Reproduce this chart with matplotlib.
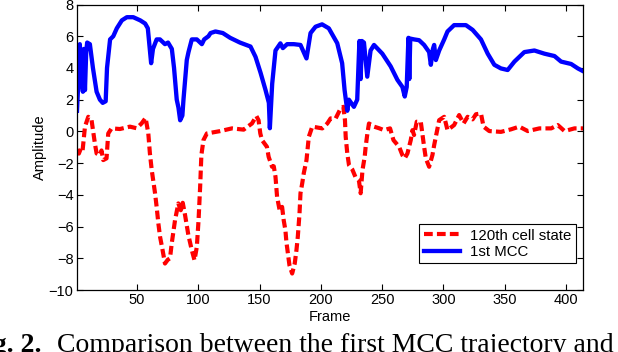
import matplotlib
matplotlib.use("Agg")
import matplotlib.pyplot as plt

# 1st MCC trajectory (frame, amplitude)
mcc_frame = [1, 2, 3.3, 4.5, 5.8, 6.6, 7.5, 8.5, 9.3, 11.5, 14, 17, 19.7, 22, 24.4, 25.5,
             28, 30.6, 33.5, 37.6, 41.7, 46.9, 52.6, 56.6, 58.8, 61.5, 63, 66, 68.7, 72.8,
             75.3, 78.4, 80.2, 82.4, 83.8, 85.2, 87, 87.9, 90.6, 92, 94.7, 98.8, 102.9, 104.8,
             108.3, 110, 114, 120, 126, 134, 142.6, 146.7, 150.8, 154.9, 157.6, 158.4, 160.3,
             163, 167, 169, 172.5, 178, 183.4, 188.3, 191.6, 195.7, 201, 206.5, 213.4, 217.4,
             219.4, 221.6, 222.9, 227, 229.7, 231.5, 232.5, 233.5, 235.2, 237.9, 240.6, 243.4,
             250.2, 257, 262.5, 266.6, 268.5, 270.1, 271.5, 272.2, 273, 276.1, 280.2, 284.3,
             288.4, 289.8, 291.5, 292.5, 293.9, 296.6, 300.7, 303.4, 308.8, 318.4, 323.9,
             330.7, 336.2, 341.6, 347, 352.5, 358, 366.1, 374.3, 382.5, 390.7, 396.1, 404.3,
             409.8, 414]
mcc_amp = [1.3, 3.0, 5.5, 3.5, 2.5, 5.2, 2.6, 5.0, 5.6, 5.5, 4.0, 2.5, 2.0, 1.8, 1.9, 4.0,
           5.8, 6.0, 6.5, 7.0, 7.2, 7.2, 7.0, 6.8, 6.5, 4.3, 5.2, 5.8, 5.8, 5.5,
           5.6, 5.2, 4.0, 2.0, 1.5, 0.7, 1.0, 2.0, 4.5, 5.0, 5.8, 5.8, 5.5, 5.8,
           6.0, 6.2, 6.3, 6.2, 5.9, 5.6, 5.35, 4.7, 3.7, 2.6, 1.8, 0.2, 3.0,
           5.1, 5.55, 5.25, 5.5, 5.5, 5.45, 4.6, 6.2, 6.6, 6.75, 6.5, 5.56, 4.3,
           2.6, 1.3, 2.0, 1.55, 2.0, 5.7, 3.3, 5.7, 5.6, 3.45, 5.1, 5.45,
           4.9, 4.1, 3.25, 2.8, 2.2, 2.8, 5.9, 3.3, 5.85, 5.8, 5.75, 5.45,
           5.0, 4.2, 5.2, 5.45, 4.5, 5.1, 5.8, 6.3, 6.7, 6.7, 6.4,
           5.8, 4.9, 4.2, 3.97, 3.87, 4.4, 5.0, 5.1, 4.9, 4.75, 4.4, 4.25,
           3.97, 3.8]

# 120th cell state (frame, amplitude)
cell_frame = [1, 2.5, 4, 5.5, 7.5, 10.2, 12.9, 15.6, 17, 19.7, 21, 22.4, 25.1, 26.5, 29.2,
              36, 44.2, 49.6, 53.7, 57, 59.2, 60.5, 62, 64.7, 66, 67.4, 68.8, 70.6, 72.8,
              75, 76.9, 78.3, 81, 83.7, 85.7, 87.3, 89.2, 91.9, 94.7, 96.9, 98.8, 100.2,
              101.5, 102.5, 104.2, 107, 117.9, 127.5, 137, 143.8, 147.4, 149.2, 150.6, 152,
              156, 157.4, 160.2, 161.6, 163, 164.3, 166.4, 168.4, 169.7, 171.1, 171.9, 173,
              174.4, 176.6, 178.7, 180.1, 181.2, 182.6, 183.4, 184.8, 186.1, 188.3, 189.4,
              190.2, 193, 201.2, 205.3, 208, 212.1, 216.2, 218.4, 219.7, 220.3, 221.6, 223,
              225.7, 228.4, 231.1, 232.5, 234, 235.8, 236.6, 238, 239.3, 243.4, 247.5, 251.6,
              256.5, 259.3, 263.9, 266.6, 268.5, 270.7, 273.4, 274.8, 276.1, 278.3, 281.6,
              283, 284.3, 285.7, 288.4, 291.1, 292.5, 294.4, 296.6, 300.7, 303.4, 308.8,
              312.9, 316.5, 319.8, 323.9, 326.6, 330.7, 332.8, 337.5, 347, 355.2, 362, 368.9,
              378.4, 388, 393.4, 398.9, 407, 414]
cell_amp = [-1.2, -1.4, -1.1, -1.25, 0.3, 0.92, 0.7, -0.76, -1.39, -1.5, -1.2, -1.81, -1.7, -0.13, 0.19,
            0.15, 0.3, 0.2, 0.5, 0.85, -0.13, -1.39, -2.44, -3.9, -4.76, -5.8, -6.65, -7.38, -8.33,
            -8.1, -8.0, -7.07, -5.6, -4.54, -4.97, -4.5, -5.28, -6.54, -7.49, -8.12, -7.28, -5.6,
            -3.5, -1.5, -0.55, -0.13, 0.02, 0.19, 0.11, 0.5, 0.97, 0.7, -0.13, -0.55,
            -0.97, -1.6, -2.23, -2.2, -2.86, -4.13, -4.97, -4.76, -5.6, -6.23, -6.97, -7.6,
            -8.44, -8.96, -8.33, -7.49, -6.65, -5.18, -3.9, -3.28, -2.63, -1.81, -0.97,
            -0.34, 0.3, 0.19, 0.5, 0.82, 0.82, 1.45, 1.55, 0.71, -0.34, -1.39, -2.13,
            -2.4, -2.9, -3.1, -3.9, -2.44, -1.6, -0.97, -0.13, 0.5, 0.3, 0.2, 0.08,
            0.19, -0.55, -0.97, -1.5, -1.7, -1.39, -0.55, 0.08, -0.23, 0.61, 0.6,
            -0.23, -0.97, -1.7, -2.23, -1.49, -0.87, -0.13, 0.71, 0.92, 0.08, 0.4,
            1.03, 0.5, 0.92, 0.76, 1.08, 1.13, 0.3, 0.02, -0.03, 0.13, 0.3, 0.02,
            0.19, 0.19, 0.4, 0.02, 0.19, 0.19]

x_ticks = [50, 100, 150, 200, 250, 300, 350, 400]
y_ticks = [-10, -8, -6, -4, -2, 0, 2, 4, 6, 8]

plt.rcParams['font.family'] = ['Liberation Sans', 'DejaVu Sans']

fig = plt.figure(figsize=(6.18, 3.52), dpi=100)
ax = fig.add_axes([0.1246, 0.1761, 0.8188, 0.8111])

ax.plot(cell_frame, cell_amp, color=(1, 0, 0), lw=3.0, dashes=(2.1, 1.0),
        label='120th cell state')
ax.plot(mcc_frame, mcc_amp, color=(0, 0, 1), lw=3.1, label='1st MCC')

ax.set_xlim(1, 414)
ax.set_ylim(-10, 8)
ax.set_xticks(x_ticks)
ax.set_yticks(y_ticks)
ax.set_yticklabels([str(v).replace('-', '\u2212') for v in y_ticks])
ax.tick_params(direction='in', top=True, right=True, length=4, width=0.8,
               labelsize=10.5, pad=2.5)
for s in ax.spines.values():
    s.set_linewidth(0.9)

ax.set_xlabel('Frame', fontsize=10.5, labelpad=2)
ax.set_ylabel('Amplitude', fontsize=10.5, labelpad=1)

leg = ax.legend(loc='lower right', bbox_to_anchor=(0.986, 0.0935), borderaxespad=0,
                fancybox=False, edgecolor='black', framealpha=1, fontsize=10.8,
                handlelength=2.4, borderpad=0.3, labelspacing=0.15, handletextpad=0.7)
leg.get_frame().set_linewidth(0.8)

# caption (cut off at the figure edges, as in the source page)
fig.text(41 / 618, 0.0, 'Fig. 2.', family='Liberation Serif', fontweight='bold',
         fontsize=20, ha='right', va='baseline')
fig.text(57 / 618, 0.0, 'Comparison between the first MCC trajectory and the 120th cell state.',
         family='Liberation Serif', fontsize=20, ha='left', va='baseline')

fig.savefig('out.png', dpi=100)
